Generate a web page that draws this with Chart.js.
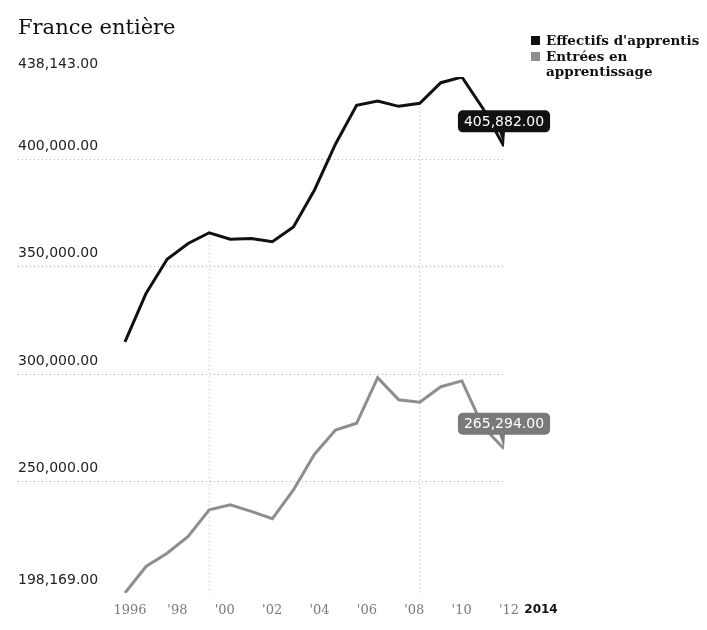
<!DOCTYPE html>
<html>
<head>
<meta charset="utf-8">
<script src="https://cdn.jsdelivr.net/npm/chart.js@4.4.1/dist/chart.umd.min.js"></script>
<style>
  body { margin: 0; background: #fff; }
  #wrap { position: relative; width: 707px; height: 630px; }
  #legend { position: absolute; left: 531px; top: 33px; width: 172px;
            font: bold 13.5px "DejaVu Serif"; line-height: 15px; color: #111; }
  #legend .item { display: flex; align-items: flex-start; margin-bottom: 1px; }
  #legend .sw { width: 9px; height: 9px; margin: 3px 6px 0 0; flex: none; }
</style>
</head>
<body>
<div id="wrap">
  <canvas id="myChart"></canvas>
  <div id="legend"></div>
</div>
<script>
var years = [1996, 1997, 1998, 1999, 2000, 2001, 2002, 2003, 2004, 2005,
             2006, 2007, 2008, 2009, 2010, 2011, 2012, 2013, 2014];
var effectifs = [315000, 337500, 353400, 360700, 365700, 362700, 363000, 361500, 368400, 385600,
                 407000, 425000, 427000, 424500, 425900, 435500, 438143, 423500, 405882];
var entrees = [198169, 210500, 216700, 224500, 236900, 239200, 236100, 232700, 246100, 262700,
               274000, 277100, 298300, 288000, 286900, 294100, 296800, 275500, 265294];
var seriesNames = ["Effectifs d'apprentis", "Entrées en apprentissage"];
var yTicks = [198169, 250000, 300000, 350000, 400000, 438143];
var xTickYears = [1996, 1998, 2000, 2002, 2004, 2006, 2008, 2010, 2012, 2014];
var xTickLabels = ["1996", "'98", "'00", "'02", "'04", "'06", "'08", "'10", "'12", "2014"];
var gridYears = [2000, 2010];

function fmt(v) {
    return v.toLocaleString('en-US', { minimumFractionDigits: 2, maximumFractionDigits: 2 });
}

// dotted drop lines from the top series down to the axis
var dropLines = {
    id: 'dropLines',
    beforeDatasetsDraw: function (chart) {
        var ctx = chart.ctx, area = chart.chartArea, sc = chart.scales;
        ctx.save();
        ctx.strokeStyle = '#b0b0b0';
        ctx.lineWidth = 1;
        ctx.setLineDash([1, 3]);
        gridYears.forEach(function (yr) {
            var i = years.indexOf(yr);
            var x = sc.x.getPixelForValue(yr);
            var y = sc.y.getPixelForValue(effectifs[i]);
            ctx.beginPath();
            ctx.moveTo(x, y);
            ctx.lineTo(x, area.bottom);
            ctx.stroke();
        });
        ctx.restore();
    }
};

// value boxes at the last point of each line
var callouts = {
    id: 'callouts',
    afterDatasetsDraw: function (chart) {
        var ctx = chart.ctx;
        chart.data.datasets.forEach(function (ds, i) {
            var meta = chart.getDatasetMeta(i);
            var pt = meta.data[meta.data.length - 1];
            var txt = fmt(ds.data[ds.data.length - 1].y);
            ctx.save();
            ctx.font = '14px "DejaVu Sans"';
            var w = ctx.measureText(txt).width + 12;
            var h = 22;
            var bx = pt.x - w / 2, by = pt.y - 36;
            ctx.fillStyle = ds.boxColor;
            ctx.beginPath();
            ctx.roundRect(bx, by, w, h, 5);
            ctx.fill();
            ctx.beginPath();
            ctx.moveTo(pt.x - 5, by + h - 1);
            ctx.lineTo(pt.x + 1, by + h - 1);
            ctx.lineTo(pt.x, pt.y - 1);
            ctx.fill();
            ctx.fillStyle = '#fff';
            ctx.textAlign = 'center';
            ctx.textBaseline = 'middle';
            ctx.fillText(txt, pt.x, by + h / 2 + 1);
            ctx.restore();
        });
    }
};

var ctx = document.getElementById("myChart");
var myChart = new Chart(ctx, {
    type: 'line',
    data: {
        datasets: [{
            label: seriesNames[0],
            data: years.map(function (y, i) { return { x: y, y: effectifs[i] }; }),
            borderColor: '#111111',
            backgroundColor: '#111111',
            boxColor: '#111111',
            borderWidth: 3,
            pointRadius: 0,
            tension: 0
        }, {
            label: seriesNames[1],
            data: years.map(function (y, i) { return { x: y, y: entrees[i] }; }),
            borderColor: '#8e8e8e',
            backgroundColor: '#8e8e8e',
            boxColor: '#7a7a7a',
            borderWidth: 3,
            pointRadius: 0,
            tension: 0
        }]
    },
    options: {
        responsive: true,
        maintainAspectRatio: false,
        animation: false,
        layout: { padding: { top: 0, left: 18, right: 203, bottom: 1.4 } },
        plugins: {
            legend: { display: false },
            tooltip: { enabled: false },
            title: {
                display: true,
                text: 'France entière',
                align: 'start',
                color: '#111',
                font: { family: 'DejaVu Serif', size: 21, weight: 'normal' },
                padding: { top: 16, bottom: 35.8 }
            }
        },
        scales: {
            x: {
                type: 'linear',
                min: 1990.92,
                max: 2014,
                afterBuildTicks: function (axis) { axis.ticks = []; },
                ticks: { display: false },
                grid: { display: false, drawTicks: false },
                border: { display: false }
            },
            xl: {
                type: 'linear',
                position: 'bottom',
                min: 1991.272,
                max: 2011.789,
                afterBuildTicks: function (axis) {
                    // last label sits a little closer to '12
                    axis.ticks = xTickYears.map(function (y, i) {
                        return { value: i === xTickYears.length - 1 ? 2013.35 : y };
                    });
                },
                ticks: {
                    autoSkip: false,
                    maxRotation: 0,
                    padding: 10,
                    callback: function (v, i) { return xTickLabels[i]; },
                    color: function (c) { return c.index === xTickLabels.length - 1 ? '#111' : '#7a7a7a'; },
                    font: function (c) {
                        return c.index === xTickLabels.length - 1
                            ? { family: 'DejaVu Sans', size: 12, weight: 'bold' }
                            : { family: 'DejaVu Serif', size: 13, weight: 'normal' };
                    }
                },
                grid: { display: false, drawTicks: false },
                border: { display: false }
            },
            y: {
                min: yTicks[0],
                max: yTicks[yTicks.length - 1],
                afterBuildTicks: function (axis) {
                    axis.ticks = yTicks.map(function (v) { return { value: v }; });
                },
                ticks: {
                    mirror: true,
                    padding: 0,
                    labelOffset: -13,
                    color: '#222',
                    font: { family: 'DejaVu Sans', size: 14 },
                    callback: function (v) { return fmt(v); }
                },
                grid: {
                    drawTicks: false,
                    lineWidth: 1,
                    color: function (c) {
                        var v = c.tick && c.tick.value;
                        return (v === yTicks[0] || v === yTicks[yTicks.length - 1]) ? 'rgba(0,0,0,0)' : '#b0b0b0';
                    }
                },
                border: { display: false, dash: [1, 3] }
            }
        }
    },
    plugins: [dropLines, callouts]
});

var legend = document.getElementById('legend');
myChart.data.datasets.forEach(function (ds) {
    legend.insertAdjacentHTML('beforeend',
        '<div class="item"><span class="sw" style="background:' + ds.borderColor + '"></span><span>' + ds.label + '</span></div>');
});
</script>
</body>
</html>
